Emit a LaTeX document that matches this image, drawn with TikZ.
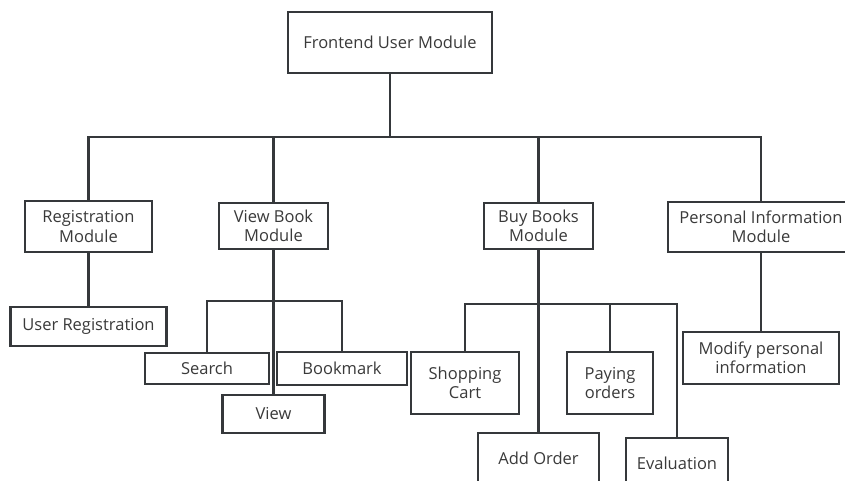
\documentclass[tikz,border=0pt]{standalone}
\usepackage{fontspec}
\setmainfont{Open Sans}
\definecolor{ink}{HTML}{35383B}
\definecolor{txt}{HTML}{3A3A3A}
\begin{document}
\begin{tikzpicture}[x=1pt,y=-1pt,
  box/.style={draw=ink,line width=2.2pt,fill=white,inner sep=0pt,align=center,
    text=txt,font=\fontsize{16.5}{19.5}\selectfont},
  link/.style={draw=ink,line width=2.2pt}]
\clip (0,0) rectangle (845,481);
\useasboundingbox (0,0) rectangle (845,481);
\fill[white] (0,0) rectangle (845,481);

% root
\node[box,minimum width=204pt,minimum height=61pt] (top) at (390,42.5) {Frontend User Module};

% second level
\node[box,minimum width=127pt,minimum height=51pt] (reg) at (88.5,226.5) {Registration\\Module};
\node[box,minimum width=109pt,minimum height=46pt] (vbm) at (273.5,226) {View Book\\Module};
\node[box,minimum width=109pt,minimum height=46pt] (buy) at (538.5,226) {Buy Books\\Module};
\node[box,minimum width=186pt,minimum height=50pt] (pers) at (761,227) {Personal Information\\Module};

% leaves
\node[box,minimum width=156pt,minimum height=39pt] (ureg) at (88.5,326.5) {User Registration};
\node[box,minimum width=124pt,minimum height=31pt] (search) at (207,368.5) {Search};
\node[box,minimum width=130pt,minimum height=33pt] (bookmark) at (342,368.5) {Bookmark};
\node[box,minimum width=102pt,minimum height=38pt] (view) at (273.5,414) {View};
\node[box,minimum width=108pt,minimum height=62pt] (cart) at (465,383) {Shopping\\Cart};
\node[box,minimum width=86pt,minimum height=62pt] (pay) at (610,383) {Paying\\orders};
\node[box,minimum width=121pt,minimum height=50pt] (add) at (538.5,458) {Add Order};
\node[box,minimum width=102pt,minimum height=50pt] (eval) at (677,463) {Evaluation};
\node[box,minimum width=156pt,minimum height=52pt] (modify) at (761,358) {Modify personal\\information};

% junction points
\coordinate (j0) at (390,137);
\coordinate (j1) at (273.5,301);
\coordinate (j2) at (538.5,304);

% connectors
\draw[link] (top.south) -- (j0);
\draw[link] (j0) -| (reg.north);
\draw[link] (j0) -| (vbm.north);
\draw[link] (j0) -| (buy.north);
\draw[link] (j0) -| (pers.north);

\draw[link] (reg.south) -- (ureg.north);

\draw[link] (vbm.south) -- (j1);
\draw[link] (j1) -| (search.north);
\draw[link] (j1) -| (bookmark.north);
\draw[link] (j1) -- (view.north);

\draw[link] (buy.south) -- (j2);
\draw[link] (j2) -| (cart.north);
\draw[link] (j2) -- (add.north);
\draw[link] (j2) -| (pay.north);
\draw[link] (j2) -| (eval.north);

\draw[link] (pers.south) -- (modify.north);
\end{tikzpicture}
\end{document}
